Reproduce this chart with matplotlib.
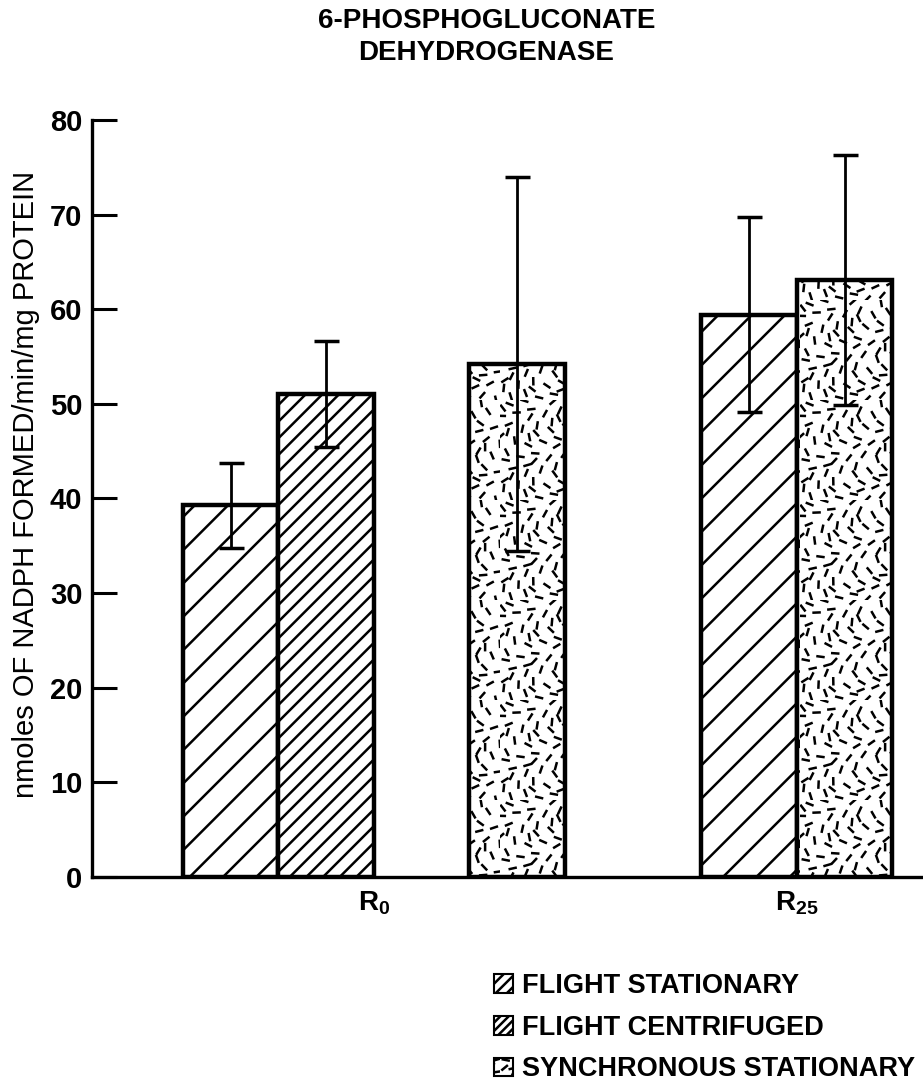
import numpy as np
import matplotlib
matplotlib.use('Agg')
import matplotlib.pyplot as plt
from matplotlib import hatch as mhatch
from matplotlib.patches import Patch
from matplotlib.path import Path

# data
groups = [r'$\mathbf{R_0}$', r'$\mathbf{R_{25}}$']
series = ['FLIGHT STATIONARY', 'FLIGHT CENTRIFUGED', 'SYNCHRONOUS STATIONARY']
flight_stationary = [39.3, 59.4]
flight_stationary_err = [4.5, 10.3]
flight_centrifuged = [51.0, np.nan]
flight_centrifuged_err = [5.6, np.nan]
synchronous_stationary = [54.2, 63.1]
synchronous_stationary_err = [19.8, 13.2]


# short scattered dashes for the "synchronous" fill ('.' hatch)
class Confetti(mhatch.HatchPatternBase):
    def __init__(self, hatch, density):
        self.num_dashes = hatch.count('.') * 75
        self.num_vertices = self.num_dashes * 2

    def set_vertices_and_codes(self, vertices, codes):
        k = np.arange(1, self.num_dashes + 1)
        cx = (0.5 + k * 0.7548776662) % 1.0
        cy = (0.5 + k * 0.5698402910) % 1.0
        ang = ((k * 0.6180339887) % 1.0) * np.pi
        half = 0.03
        vertices[0::2, 0] = cx - half * np.cos(ang)
        vertices[0::2, 1] = cy - half * np.sin(ang)
        vertices[1::2, 0] = cx + half * np.cos(ang)
        vertices[1::2, 1] = cy + half * np.sin(ang)
        codes[0::2] = Path.MOVETO
        codes[1::2] = Path.LINETO


mhatch._hatch_types = [Confetti if h is mhatch.SmallFilledCircles else h
                       for h in mhatch._hatch_types]

plt.rcParams['font.family'] = ['Liberation Sans', 'DejaVu Sans']
plt.rcParams['font.weight'] = 'bold'
plt.rcParams['mathtext.fontset'] = 'custom'
plt.rcParams['mathtext.rm'] = 'Liberation Sans'
plt.rcParams['mathtext.bf'] = 'Liberation Sans:bold'
plt.rcParams['hatch.linewidth'] = 1.8

fig = plt.figure(figsize=(9.23, 10.86), dpi=100)
ax = fig.add_axes([0.0997, 0.1925, 0.9003, 0.697])

group_x = np.array([0.0, 4.43])
slots = [[-1.5, -0.5], [-0.5, None], [1.5, 0.5]]
hatches = ['/', '//', '.']
values = [flight_stationary, flight_centrifuged, synchronous_stationary]
errors = [flight_stationary_err, flight_centrifuged_err, synchronous_stationary_err]

for vals, errs, slot, h in zip(values, errors, slots, hatches):
    for gx, v, e, s in zip(group_x, vals, errs, slot):
        if s is None or np.isnan(v):
            continue
        ax.bar(gx + s, v, width=1.0, facecolor='white', edgecolor='black',
               linewidth=3.2, hatch=h, zorder=2)
        ax.errorbar(gx + s, v, yerr=e, fmt='none', ecolor='black',
                    elinewidth=2, capsize=9, capthick=2.5, zorder=3)

ax.set_xlim(-2.95, 5.75)
ax.set_ylim(0, 80)
ax.set_yticks(range(0, 81, 10))
ax.set_xticks(group_x)
ax.set_xticklabels(groups)
for side in ['top', 'right']:
    ax.spines[side].set_visible(False)
for side in ['left', 'bottom']:
    ax.spines[side].set_linewidth(2.4)
ax.tick_params(axis='y', direction='in', length=18, width=2.2, pad=7, labelsize=21)
ax.tick_params(axis='x', length=0, pad=9, labelsize=20)

ax.set_ylabel('nmoles OF NADPH FORMED/min/mg PROTEIN', fontsize=21,
              fontweight='normal')
ax.yaxis.set_label_coords(-0.063, 0.518)

fig.text(0.527, 0.993, '6-PHOSPHOGLUCONATE\nDEHYDROGENASE', ha='center',
         va='top', fontsize=20, fontweight='bold', linespacing=1.3)

handles = [Patch(facecolor='white', edgecolor='black', linewidth=1.5, hatch=h)
           for h in ['///', '////', '..']]
fig.legend(handles, series, loc='upper left', bbox_to_anchor=(0.535, 0.104),
           frameon=False, fontsize=19.5, handlelength=0.7, handleheight=0.7,
           handletextpad=0.35, labelspacing=0.58, borderpad=0, borderaxespad=0)

fig.savefig('out.png', dpi=100)
